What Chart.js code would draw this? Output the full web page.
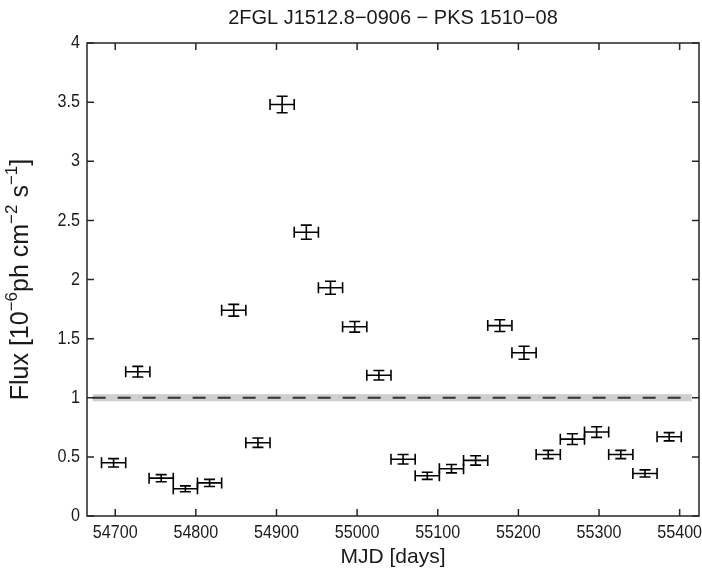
<!DOCTYPE html>
<html>
<head>
<meta charset="utf-8">
<script src="https://cdn.jsdelivr.net/npm/chart.js@4.4.1/dist/chart.umd.min.js"></script>
<style>
  html, body { margin: 0; padding: 0; background: #fff; }
  canvas { display: block; }
</style>
</head>
<body>
<canvas id="c" width="702" height="574"></canvas>
<script>
// ---- data ----
const mjd   = [54698, 54728, 54757, 54787, 54817, 54847, 54877, 54907, 54937, 54967, 54997, 55027,
               55057, 55087, 55117, 55147, 55177, 55207, 55237, 55267, 55297, 55327, 55357, 55387];
const mjdErr = [15, 15, 15, 15, 15, 15, 15, 15, 15, 15, 15, 15,
                15, 15, 15, 15, 15, 15, 15, 15, 15, 15, 15, 15];
const flux  = [0.45, 1.22, 0.32, 0.23, 0.28, 1.74, 0.62, 3.48, 2.40, 1.93, 1.60, 1.19,
               0.48, 0.34, 0.40, 0.47, 1.61, 1.38, 0.52, 0.65, 0.71, 0.52, 0.36, 0.67];
const fluxErr = [0.035, 0.045, 0.03, 0.025, 0.03, 0.05, 0.04, 0.07, 0.06, 0.055, 0.045, 0.04,
                 0.04, 0.03, 0.035, 0.04, 0.05, 0.055, 0.035, 0.045, 0.045, 0.035, 0.03, 0.035];
const xTicks = [54700, 54800, 54900, 55000, 55100, 55200, 55300, 55400];
const xTickLabels = ['54700', '54800', '54900', '55000', '55100', '55200', '55300', '55400'];
const yTicks = [0, 0.5, 1, 1.5, 2, 2.5, 3, 3.5, 4];
const yTickLabels = ['0', '0.5', '1', '1.5', '2', '2.5', '3', '3.5', '4'];
const refLevel = 1.0;
const refBand = 0.03;
const refRange = [54672, 55415];
const titleText = '2FGL J1512.8\u22120906 \u2212 PKS 1510\u221208';
const xTitle = 'MJD [days]';
const yTitleParts = [
  {t: 'Flux [10'}, {t: '\u22126', sup: true}, {t: 'ph cm'}, {t: '\u22122', sup: true},
  {t: ' s'}, {t: '\u22121', sup: true}, {t: ']'}
];

const FONT = '"Liberation Sans", Arial, Helvetica, sans-serif';
const INK = '#1a1a1a';

const decor = {
  id: 'decor',
  beforeDatasetsDraw(chart) {
    const ctx = chart.ctx, xs = chart.scales.x, ys = chart.scales.y;
    ctx.save();
    const x0 = xs.getPixelForValue(refRange[0]), x1 = xs.getPixelForValue(refRange[1]);
    const yb0 = ys.getPixelForValue(refLevel + refBand), yb1 = ys.getPixelForValue(refLevel - refBand);
    ctx.fillStyle = '#cfcfcf';
    ctx.fillRect(x0, yb0, x1 - x0, yb1 - yb0);
    const yl = ys.getPixelForValue(refLevel);
    ctx.strokeStyle = '#333333';
    ctx.lineWidth = 2;
    ctx.setLineDash([13, 12]);
    ctx.beginPath();
    ctx.moveTo(x0, yl); ctx.lineTo(x1, yl);
    ctx.stroke();
    ctx.restore();
  },
  afterDatasetsDraw(chart) {
    const ctx = chart.ctx, xs = chart.scales.x, ys = chart.scales.y;
    const a = chart.chartArea;
    ctx.save();
    // error bars
    ctx.strokeStyle = '#000';
    ctx.lineWidth = 1.6;
    ctx.setLineDash([]);
    const cap = 5.5;
    for (let i = 0; i < mjd.length; i++) {
      const cx = xs.getPixelForValue(mjd[i]);
      const cy = ys.getPixelForValue(flux[i]);
      const xl = xs.getPixelForValue(mjd[i] - mjdErr[i]);
      const xr = xs.getPixelForValue(mjd[i] + mjdErr[i]);
      const yt = ys.getPixelForValue(flux[i] + fluxErr[i]);
      const yb = ys.getPixelForValue(flux[i] - fluxErr[i]);
      ctx.beginPath();
      ctx.moveTo(xl, cy); ctx.lineTo(xr, cy);
      ctx.moveTo(xl, cy - cap); ctx.lineTo(xl, cy + cap);
      ctx.moveTo(xr, cy - cap); ctx.lineTo(xr, cy + cap);
      ctx.moveTo(cx, yt); ctx.lineTo(cx, yb);
      ctx.moveTo(cx - cap, yt); ctx.lineTo(cx + cap, yt);
      ctx.moveTo(cx - cap, yb); ctx.lineTo(cx + cap, yb);
      ctx.stroke();
    }
    // box and inward ticks
    ctx.strokeStyle = '#262626';
    ctx.lineWidth = 1.5;
    ctx.strokeRect(a.left, a.top, a.right - a.left, a.bottom - a.top);
    const tl = 7;
    ctx.beginPath();
    xTicks.forEach(v => {
      const px = xs.getPixelForValue(v);
      ctx.moveTo(px, a.bottom); ctx.lineTo(px, a.bottom - tl);
      ctx.moveTo(px, a.top); ctx.lineTo(px, a.top + tl);
    });
    yTicks.forEach(v => {
      const py = ys.getPixelForValue(v);
      ctx.moveTo(a.left, py); ctx.lineTo(a.left + tl, py);
      ctx.moveTo(a.right, py); ctx.lineTo(a.right - tl, py);
    });
    ctx.stroke();
    // tick labels (slightly condensed, like the reference)
    ctx.fillStyle = INK;
    ctx.font = '19px ' + FONT;
    ctx.textBaseline = 'middle';
    ctx.textAlign = 'center';
    xTicks.forEach((v, i) => {
      ctx.save();
      ctx.translate(xs.getPixelForValue(v), a.bottom + 17);
      ctx.scale(0.85, 1);
      ctx.fillText(xTickLabels[i], 0, 0);
      ctx.restore();
    });
    ctx.textAlign = 'right';
    yTicks.forEach((v, i) => {
      ctx.save();
      ctx.translate(a.left - 7, ys.getPixelForValue(v));
      ctx.scale(0.85, 1);
      ctx.fillText(yTickLabels[i], 0, 0);
      ctx.restore();
    });
    // titles
    ctx.textAlign = 'center';
    ctx.font = '20px ' + FONT;
    ctx.fillText(titleText, (a.left + a.right) / 2, 18);
    ctx.font = '21px ' + FONT;
    ctx.fillText(xTitle, (a.left + a.right) / 2, 557);
    ctx.translate(21, (a.top + a.bottom) / 2);
    ctx.rotate(-Math.PI / 2);
    const base = '25px ' + FONT, sup = '17px ' + FONT;
    let w = 0;
    yTitleParts.forEach(p => { ctx.font = p.sup ? sup : base; w += ctx.measureText(p.t).width; });
    let x = -w / 2;
    ctx.textAlign = 'left';
    yTitleParts.forEach(p => {
      ctx.font = p.sup ? sup : base;
      ctx.fillText(p.t, x, p.sup ? -9 : 0);
      x += ctx.measureText(p.t).width;
    });
    ctx.restore();
  }
};

new Chart(document.getElementById('c'), {
  type: 'scatter',
  data: {
    datasets: [{
      data: mjd.map((v, i) => ({x: v, y: flux[i]})),
      pointRadius: 0,
      pointHoverRadius: 0,
      showLine: false
    }]
  },
  options: {
    responsive: false,
    animation: false,
    events: [],
    layout: { padding: { left: 0, top: 43, right: 3, bottom: 0 } },
    plugins: { legend: { display: false }, tooltip: { enabled: false }, title: { display: false } },
    scales: {
      x: {
        type: 'linear',
        min: 54665, max: 55424,
        afterBuildTicks: s => { s.ticks = xTicks.map(v => ({value: v})); },
        afterFit: s => { s.height = 58; s.paddingLeft = 0; s.paddingRight = 0; },
        grid: { display: false, drawTicks: false },
        border: { display: false },
        ticks: { display: false }
      },
      y: {
        type: 'linear',
        min: 0, max: 4,
        afterBuildTicks: s => { s.ticks = yTicks.map(v => ({value: v})); },
        afterFit: s => { s.width = 87; s.paddingTop = 0; s.paddingBottom = 0; },
        grid: { display: false, drawTicks: false },
        border: { display: false },
        ticks: { display: false }
      }
    }
  },
  plugins: [decor]
});
</script>
</body>
</html>
